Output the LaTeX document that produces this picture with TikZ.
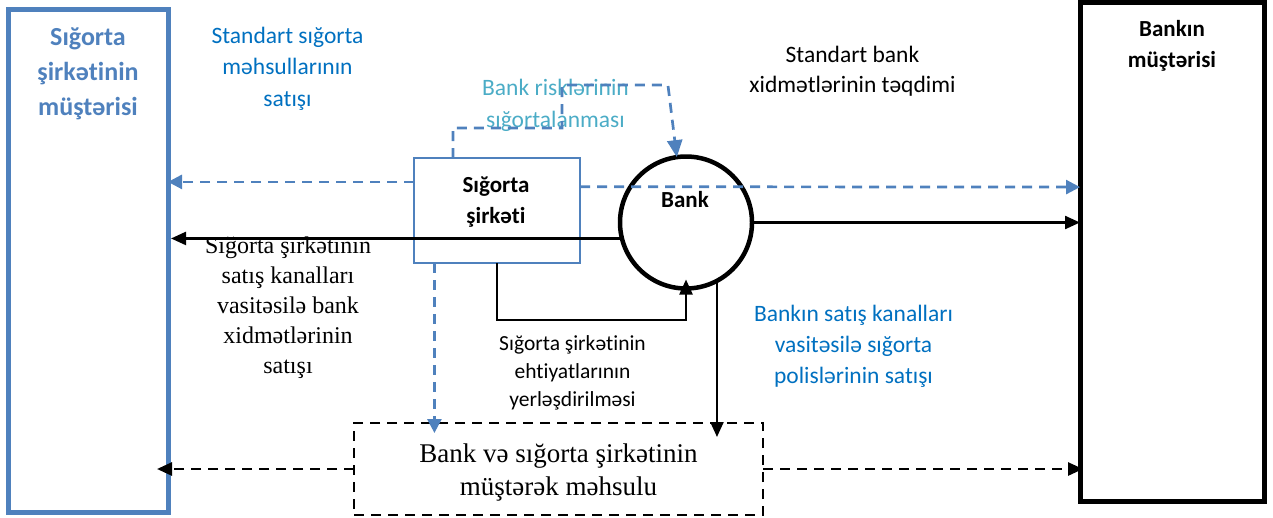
\documentclass[tikz,border=0pt]{standalone}
\usepackage{fontspec}
\setmainfont{Carlito}[Ligatures={NoCommon}]
\newfontfamily\tnr{Liberation Serif}[Ligatures={NoCommon}]
\usetikzlibrary{arrows.meta,calc}
\definecolor{boxblue}{HTML}{4F81BD}
\definecolor{txtblue}{HTML}{0070C0}
\definecolor{lblue}{HTML}{4BACC6}
\begin{document}
\begin{tikzpicture}[x=1pt,y=-1pt,
  lbl/.style={inner sep=0pt, outer sep=0pt, align=center},
  shapebox/.style={rectangle, inner sep=0pt, outer sep=0pt},
  ktip/.style={-{Triangle[length=15pt,width=13pt]}},
  btip/.style={-{Triangle[length=14pt,width=14pt]}},
  bdash/.style={draw=boxblue, line width=2.7pt, dash pattern=on 10pt off 7pt},
  kdash/.style={draw=black, line width=2.7pt, dash pattern=on 10pt off 7pt},
  ksolid/.style={draw=black, line width=2.3pt},
]
\useasboundingbox (0,0) rectangle (1273,517);

% main shapes
\node[shapebox, draw=boxblue, line width=5pt, minimum width=160pt, minimum height=503pt] (leftbox) at (88,260.5) {};
\node[shapebox, draw=black, line width=5pt, minimum width=184pt, minimum height=499pt] (rightbox) at (1172,251.5) {};
\node[shapebox, draw=boxblue, line width=2.5pt, minimum width=166pt, minimum height=105pt] (skbox) at (497,210.5) {};
\node[circle, draw=black, line width=4.5pt, inner sep=0pt, outer sep=0pt, minimum size=132pt] (bank) at (686,222.5) {};
\node[shapebox, draw=black, line width=2.7pt, dash pattern=on 10pt off 7pt, minimum width=409pt, minimum height=92pt] (joint) at (558.5,469) {};

% texts
\node[lbl, text=boxblue, font=\bfseries\fontsize{26}{35}\selectfont] (t_left) at (88,73.5) {Sığorta\\şirkətinin\\müştərisi};
\node[lbl, text=black, font=\bfseries\fontsize{23}{31}\selectfont] (t_right) at (1172,45.5) {Bankın\\müştərisi};
\node[lbl, text=black, font=\bfseries\fontsize{23}{31}\selectfont] (t_sk) at (496,202) {Sığorta\\şirkəti};
\node[lbl, text=black, font=\bfseries\fontsize{23}{31}\selectfont, anchor=base] (t_bank) at (685,207) {Bank};
\node[lbl, text=txtblue, font=\fontsize{23.5}{31.5}\selectfont] (t_std) at (287.5,68.5) {Standart sığorta\\məhsullarının\\satışı};
\node[lbl, text=black, font=\fontsize{23.5}{30}\selectfont] (t_stdbank) at (852.5,71) {Standart bank\\xidmətlərinin təqdimi};
\node[lbl, text=lblue, font=\fontsize{23.5}{32}\selectfont] (t_risk) at (555.5,105) {Bank risklərinin\\sığortalanması};
\node[lbl, text=black, font=\tnr\fontsize{24}{30}\selectfont] (t_kanal) at (288,308) {Sığorta şirkətinin\\satış kanalları\\vasitəsilə bank\\xidmətlərinin\\satışı};
\node[lbl, text=black, font=\fontsize{21.5}{28}\selectfont] (t_ehti) at (572.5,373) {Sığorta şirkətinin\\ehtiyatlarının\\yerləşdirilməsi};
\node[lbl, text=black, font=\tnr\fontsize{27}{33}\selectfont] (t_joint) at (558.5,472) {Bank və sığorta şirkətinin\\müştərək məhsulu};
\node[lbl, text=txtblue, font=\fontsize{23.5}{31}\selectfont] (t_bsk) at (853.5,346) {Bankın satış kanalları\\vasitəsilə sığorta\\polislərinin satışı};

% connectors
\draw[bdash, btip] (skbox.161) -- (skbox.161 -| leftbox.east);
\draw[bdash, btip] (skbox.16.4) -- (rightbox.145.8);
\draw[ksolid, ktip, shorten >=3pt] (bank.194) -- (bank.194 -| leftbox.east);
\draw[ksolid, ktip] (bank.east) -- (bank.east -| rightbox.west);
\draw[ksolid, ktip, shorten >=-9pt] (skbox.south) -- ++(0,57) -| (bank.south);
\draw[ksolid, ktip, shorten >=-14pt] (bank.-62) -- (bank.-62 |- joint.north);
\draw[bdash, btip, shorten >=-10pt] (skbox.220.26) -- (skbox.220.26 |- joint.north);
\draw[bdash, -{Triangle[length=17pt,width=15pt]}] (skbox.130) -- ++(0,-30) -- ++(109,0) -- ++(0,-43) -- ++(106,0) -- (bank.98.7);
\draw[kdash, ktip, shorten >=-11pt] (joint.west) -- (joint.west -| leftbox.east);
\draw[kdash, ktip, shorten >=-3pt] (joint.east) -- (joint.east -| rightbox.west);
\end{tikzpicture}
\end{document}
